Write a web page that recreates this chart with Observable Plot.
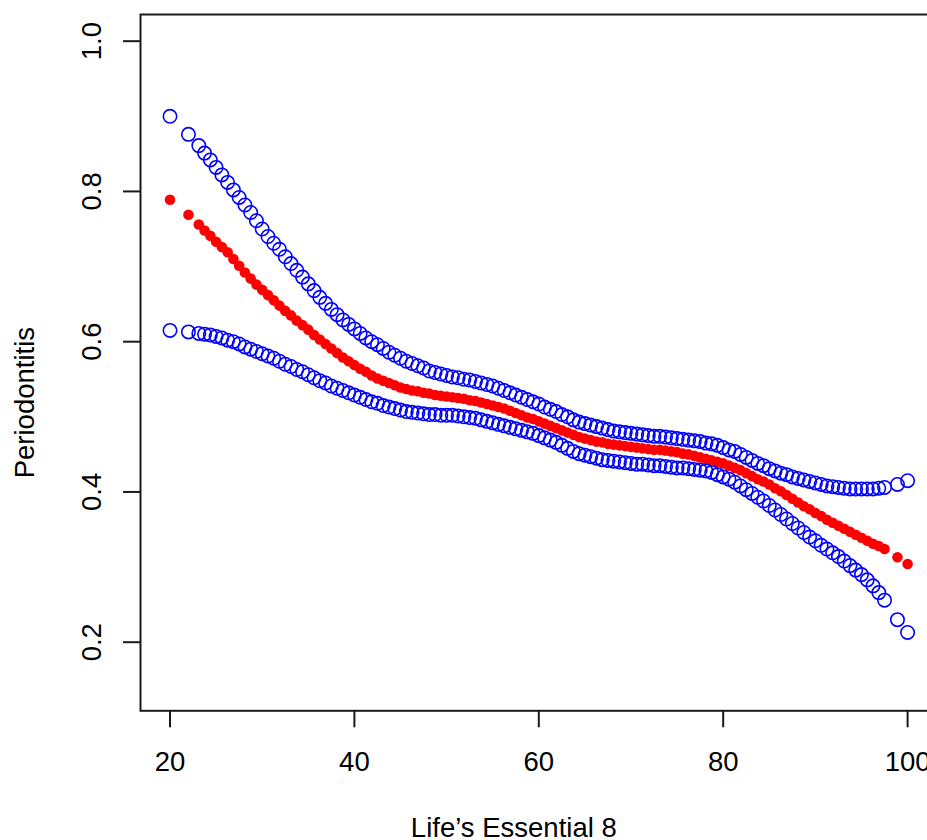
<!DOCTYPE html>
<html>
<head>
<meta charset="utf-8">
<script src="https://cdn.jsdelivr.net/npm/d3@7"></script>
<script src="https://cdn.jsdelivr.net/npm/@observablehq/plot@0.6"></script>
<style>
  html, body { margin: 0; padding: 0; background: #fff; overflow: hidden; }
  svg { display: block; max-width: none !important; height: 840px !important; }
</style>
</head>
<body>
<div id="chart"></div>
<script>
// Life's Essential 8 scores (x)
const le8 = [
  20, 22,
  23.125, 23.75, 24.375, 25, 25.625, 26.25, 26.875, 27.5,
  28.125, 28.75, 29.375, 30, 30.625, 31.25, 31.875, 32.5,
  33.125, 33.75, 34.375, 35, 35.625, 36.25, 36.875, 37.5,
  38.125, 38.75, 39.375, 40, 40.625, 41.25, 41.875, 42.5,
  43.125, 43.75, 44.375, 45, 45.625, 46.25, 46.875, 47.5,
  48.125, 48.75, 49.375, 50, 50.625, 51.25, 51.875, 52.5,
  53.125, 53.75, 54.375, 55, 55.625, 56.25, 56.875, 57.5,
  58.125, 58.75, 59.375, 60, 60.625, 61.25, 61.875, 62.5,
  63.125, 63.75, 64.375, 65, 65.625, 66.25, 66.875, 67.5,
  68.125, 68.75, 69.375, 70, 70.625, 71.25, 71.875, 72.5,
  73.125, 73.75, 74.375, 75, 75.625, 76.25, 76.875, 77.5,
  78.125, 78.75, 79.375, 80, 80.625, 81.25, 81.875, 82.5,
  83.125, 83.75, 84.375, 85, 85.625, 86.25, 86.875, 87.5,
  88.125, 88.75, 89.375, 90, 90.625, 91.25, 91.875, 92.5,
  93.125, 93.75, 94.375, 95, 95.625, 96.25, 96.875, 97.5,
  98.9, 100
];

// Upper confidence limit
const upper = [
  0.900, 0.876,
  0.861, 0.851, 0.842, 0.832, 0.822, 0.812, 0.802, 0.792,
  0.782, 0.772, 0.761, 0.750, 0.740, 0.731, 0.723, 0.713,
  0.704, 0.695, 0.686, 0.677, 0.668, 0.659, 0.651, 0.643,
  0.636, 0.629, 0.623, 0.617, 0.611, 0.605, 0.600, 0.596,
  0.591, 0.586, 0.582, 0.578, 0.574, 0.571, 0.568, 0.565,
  0.561, 0.559, 0.557, 0.555, 0.553, 0.552, 0.550, 0.549,
  0.547, 0.545, 0.543, 0.541, 0.538, 0.535, 0.532, 0.529,
  0.526, 0.523, 0.520, 0.517, 0.513, 0.510, 0.507, 0.503,
  0.500, 0.496, 0.493, 0.491, 0.489, 0.487, 0.485, 0.483,
  0.481, 0.480, 0.479, 0.478, 0.477, 0.476, 0.475, 0.474,
  0.474, 0.473, 0.472, 0.471, 0.470, 0.469, 0.468, 0.467,
  0.465, 0.464, 0.462, 0.459, 0.456, 0.454, 0.450, 0.446,
  0.442, 0.438, 0.435, 0.431, 0.428, 0.425, 0.423, 0.420,
  0.418, 0.416, 0.414, 0.412, 0.410, 0.408, 0.407, 0.406,
  0.405, 0.404, 0.404, 0.404, 0.404, 0.404, 0.405, 0.406,
  0.410, 0.415
];

// Fitted probability of periodontitis
const fit = [
  0.789, 0.769,
  0.756, 0.748, 0.741, 0.733, 0.726, 0.719, 0.710, 0.701,
  0.692, 0.684, 0.676, 0.669, 0.662, 0.655, 0.648, 0.641,
  0.635, 0.628, 0.622, 0.616, 0.609, 0.603, 0.597, 0.591,
  0.585, 0.579, 0.574, 0.569, 0.564, 0.560, 0.555, 0.551,
  0.548, 0.545, 0.542, 0.539, 0.537, 0.535, 0.534, 0.532,
  0.531, 0.529, 0.528, 0.527, 0.526, 0.525, 0.524, 0.522,
  0.521, 0.519, 0.517, 0.515, 0.513, 0.511, 0.508, 0.505,
  0.502, 0.499, 0.497, 0.494, 0.491, 0.488, 0.485, 0.482,
  0.479, 0.476, 0.473, 0.471, 0.469, 0.467, 0.466, 0.464,
  0.463, 0.462, 0.461, 0.460, 0.459, 0.458, 0.457, 0.456,
  0.456, 0.455, 0.454, 0.453, 0.451, 0.450, 0.448, 0.446,
  0.444, 0.442, 0.440, 0.438, 0.435, 0.432, 0.429, 0.425,
  0.421, 0.417, 0.414, 0.410, 0.405, 0.401, 0.396, 0.391,
  0.386, 0.381, 0.377, 0.372, 0.368, 0.363, 0.359, 0.355,
  0.351, 0.347, 0.343, 0.339, 0.335, 0.331, 0.328, 0.324,
  0.313, 0.304
];

// Lower confidence limit
const lower = [
  0.615, 0.613,
  0.611, 0.610, 0.609, 0.607, 0.605, 0.602, 0.600, 0.597,
  0.593, 0.590, 0.587, 0.584, 0.581, 0.578, 0.574, 0.570,
  0.567, 0.563, 0.560, 0.556, 0.552, 0.548, 0.545, 0.541,
  0.538, 0.535, 0.532, 0.529, 0.526, 0.523, 0.520, 0.518,
  0.515, 0.513, 0.511, 0.509, 0.507, 0.506, 0.505, 0.504,
  0.503, 0.503, 0.502, 0.502, 0.502, 0.501, 0.500, 0.499,
  0.498, 0.496, 0.494, 0.492, 0.490, 0.488, 0.486, 0.484,
  0.482, 0.480, 0.478, 0.475, 0.472, 0.469, 0.466, 0.462,
  0.458, 0.454, 0.451, 0.449, 0.447, 0.445, 0.443, 0.442,
  0.441, 0.440, 0.439, 0.438, 0.437, 0.437, 0.436, 0.435,
  0.435, 0.434, 0.433, 0.432, 0.432, 0.431, 0.430, 0.429,
  0.428, 0.426, 0.423, 0.420, 0.417, 0.413, 0.408, 0.403,
  0.398, 0.393, 0.388, 0.382, 0.376, 0.370, 0.364, 0.358,
  0.352, 0.346, 0.340, 0.335, 0.329, 0.324, 0.319, 0.314,
  0.308, 0.302, 0.296, 0.290, 0.283, 0.275, 0.266, 0.256,
  0.230, 0.213
];

const xTicks = [20, 40, 60, 80, 100];
const yTicks = [0.2, 0.4, 0.6, 0.8, 1.0];
const xTitle = "Life\u2019s Essential 8";
const yTitle = "Periodontitis";

const rows = le8.map((x, i) => ({x, upper: upper[i], fit: fit[i], lower: lower[i]}));

const chart = Plot.plot({
  width: 960,
  height: 840,
  marginLeft: 140,
  marginRight: 23.4,
  marginTop: 14,
  marginBottom: 129.7,
  x: {domain: [16.8, 103.2], axis: null},
  y: {domain: [0.1087, 1.0355], axis: null},
  style: {fontFamily: "'Liberation Sans', Arial, Helvetica, sans-serif", fontSize: "27.5px", background: "#fff", color: "#000", overflow: "visible"},
  marks: [
    Plot.dot(rows, {x: "x", y: "fit", r: 5.3, fill: "#ff0000", stroke: "none"}),
    Plot.dot(rows, {x: "x", y: "lower", r: 6.7, fill: "none", stroke: "#0000ff", strokeWidth: 1.6}),
    Plot.dot(rows, {x: "x", y: "upper", r: 6.7, fill: "none", stroke: "#0000ff", strokeWidth: 1.6}),
    Plot.frame({stroke: "#1a1a1a", strokeWidth: 2}),
    Plot.axisX(xTicks, {tickSize: 17, tickPadding: 24, stroke: "#1a1a1a", strokeWidth: 2, fontSize: 27.5, label: null, tickFormat: d => String(d)}),
    Plot.axisY(yTicks, {tickSize: 17, stroke: "#1a1a1a", strokeWidth: 2, label: null, tickFormat: () => ""}),
    Plot.text(yTicks, {y: d => d, text: d => d.toFixed(1), frameAnchor: "left", rotate: -90, dx: -40, lineAnchor: "bottom", textAnchor: "middle", fontSize: 27.5, fill: "#000"}),
    Plot.text([xTitle], {text: d => d, frameAnchor: "bottom", dx: -25, dy: 126.5, lineAnchor: "bottom", fontSize: 27.5, fill: "#000"}),
    Plot.text([yTitle], {text: d => d, frameAnchor: "left", rotate: -90, dx: -107, dy: 40, lineAnchor: "bottom", textAnchor: "middle", fontSize: 27.5, fill: "#000"})
  ]
});
document.getElementById("chart").appendChild(chart);
</script>
</body>
</html>
